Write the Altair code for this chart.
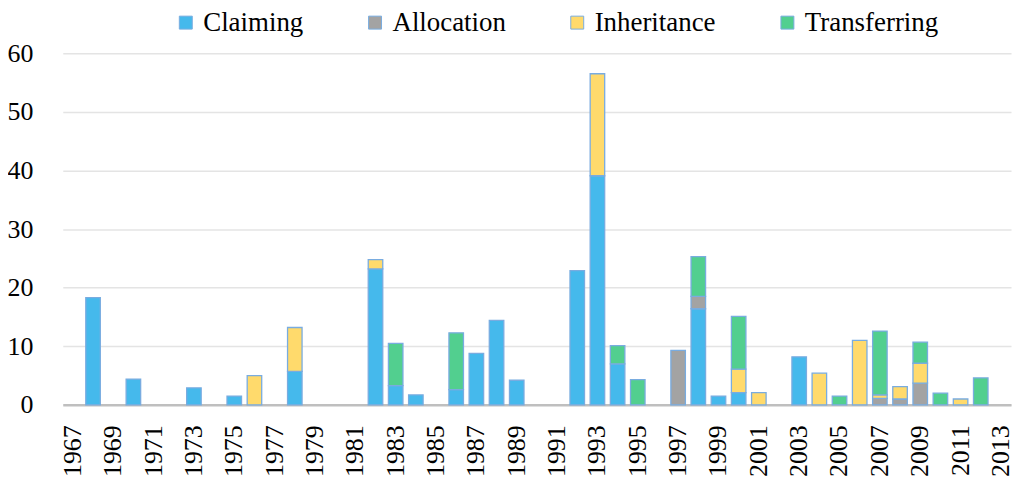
import altair as alt
import pandas as pd

# Data (year -> value)
claiming_years = [1968, 1970, 1973, 1975, 1978, 1982, 1983, 1984, 1986, 1987, 1988, 1989,
                  1992, 1993, 1994, 1998, 1999, 2000, 2003]
claiming_vals = [18.3, 4.4, 2.9, 1.5, 5.7, 23.2, 3.3, 1.7, 2.6, 8.8, 14.4, 4.2,
                 22.9, 39.1, 7.0, 16.4, 1.5, 2.1, 8.2]

allocation_years = [1997, 1998, 2007, 2008, 2009]
allocation_vals = [9.3, 2.1, 1.1, 1.0, 3.7]

inheritance_years = [1976, 1978, 1982, 1993, 2000, 2001, 2004, 2006, 2007, 2008, 2009, 2011]
inheritance_vals = [5.0, 7.5, 1.6, 17.4, 4.0, 2.1, 5.4, 11.0, 0.6, 2.1, 3.4, 1.0]

transferring_years = [1983, 1986, 1994, 1995, 1998, 2000, 2005, 2007, 2009, 2010, 2012]
transferring_vals = [7.2, 9.7, 3.1, 4.3, 6.8, 9.0, 1.5, 10.9, 3.6, 2.0, 4.6]

all_years = [str(y) for y in range(1967, 2014)]
label_years = [str(y) for y in range(1967, 2014, 2)]
series_names = ["Claiming", "Allocation", "Inheritance", "Transferring"]
series_colors = ["#45b9ec", "#a3a3a3", "#ffda6c", "#52cf8f"]

rows = []
for idx, (name, ys, vs) in enumerate([
    ("Claiming", claiming_years, claiming_vals),
    ("Allocation", allocation_years, allocation_vals),
    ("Inheritance", inheritance_years, inheritance_vals),
    ("Transferring", transferring_years, transferring_vals),
]):
    for y, v in zip(ys, vs):
        rows.append({"year": str(y), "value": v, "type": name, "ord": idx})
df = pd.DataFrame(rows)

FONT = "Liberation Serif"

chart = alt.Chart(df).mark_bar(
    stroke="#79ace0", strokeWidth=1.3
).encode(
    x=alt.X("year:O",
            scale=alt.Scale(domain=all_years, paddingInner=0.28, paddingOuter=0.14),
            axis=alt.Axis(values=label_years, labelAngle=-90, labelAlign="right",
                          labelBaseline="middle", labelPadding=20, ticks=False,
                          domainColor="#bfbfbf", domainWidth=2.5,
                          labelFont=FONT, labelFontSize=26, labelColor="black",
                          labelOverlap=False, grid=False),
            title=None),
    y=alt.Y("value:Q",
            scale=alt.Scale(domain=[0, 60], nice=False),
            axis=alt.Axis(values=[0, 10, 20, 30, 40, 50, 60], domain=False, ticks=False,
                          gridColor="#e4e4e4", gridWidth=1.5,
                          labelFont=FONT, labelFontSize=26, labelColor="black",
                          labelPadding=30),
            title=None,
            stack="zero"),
    color=alt.Color("type:N",
                    scale=alt.Scale(domain=series_names, range=series_colors),
                    legend=alt.Legend(title=None, orient="none", legendX=110, legendY=-44.5,
                                      direction="horizontal", columnPadding=58,
                                      labelFont=FONT, labelFontSize=27, labelColor="black",
                                      labelOffset=4, symbolType="square", symbolSize=169,
                                      symbolStrokeColor="#79ace0", symbolStrokeWidth=1)),
    order=alt.Order("ord:Q", sort="ascending"),
).properties(
    width=952, height=353,
    autosize=alt.AutoSizeParams(type="none"),
    padding={"left": 55, "top": 44.5, "right": 5, "bottom": 75},
).configure_view(stroke=None)

chart.save("out.html", embed_options={"renderer": "svg", "actions": False})
